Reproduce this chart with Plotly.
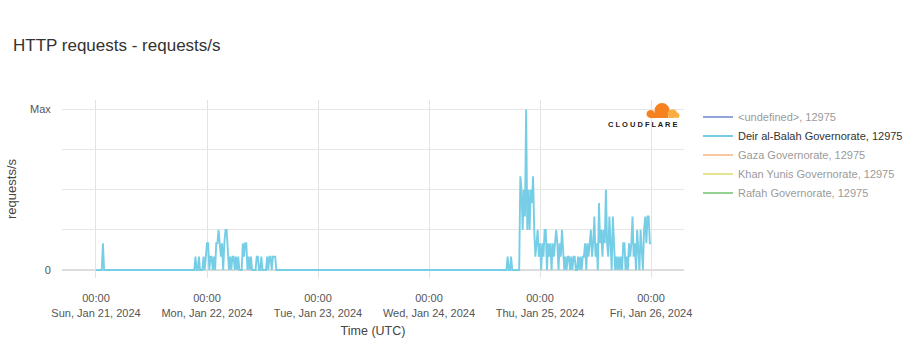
import pandas as pd
import plotly.graph_objects as go

# ---------------- data ----------------
title_text = "HTTP requests - requests/s"
series_names = [
    "&lt;undefined&gt;, 12975",
    "Deir al-Balah Governorate, 12975",
    "Gaza Governorate, 12975",
    "Khan Yunis Governorate, 12975",
    "Rafah Governorate, 12975",
]
series_colors = ["#1a48b8", "#76cee6", "#f38a3a", "#c8c81e", "#1fa21f"]
series_start = "2024-01-21 00:00"
series_step = "15min"

# Deir al-Balah Governorate, 12975 (scaled 0..12, 12 = Max), 15-minute samples
jan21 = [
    0, 0, 0, 0, 0, 0, 2, 0, 0, 0, 0, 0, 0, 0, 0, 0, 0, 0, 0, 0, 0, 0, 0, 0,
    0, 0, 0, 0, 0, 0, 0, 0, 0, 0, 0, 0, 0, 0, 0, 0, 0, 0, 0, 0, 0, 0, 0, 0,
    0, 0, 0, 0, 0, 0, 0, 0, 0, 0, 0, 0, 0, 0, 0, 0, 0, 0, 0, 0, 0, 0, 0, 0,
    0, 0, 0, 0, 0, 0, 0, 0, 0, 0, 0, 0, 0, 0, 1, 0, 0, 1, 0, 0, 0, 1, 0, 1,
]
jan22 = [
    2, 2, 0, 1, 1, 0, 1, 0, 2, 2, 3, 2, 1, 2, 0, 2, 3, 3, 1, 0, 1, 0, 1, 1,
    0, 1, 0, 1, 0, 0, 0, 2, 1, 2, 2, 0, 1, 0, 1, 0, 0, 0, 0, 1, 1, 0, 0, 1,
    0, 0, 0, 0, 1, 0, 1, 1, 0, 1, 1, 1, 0, 0, 0, 0, 0, 0, 0, 0, 0, 0, 0, 0,
    0, 0, 0, 0, 0, 0, 0, 0, 0, 0, 0, 0, 0, 0, 0, 0, 0, 0, 0, 0, 0, 0, 0, 0,
]
jan23 = [
    0, 0, 0, 0, 0, 0, 0, 0, 0, 0, 0, 0, 0, 0, 0, 0, 0, 0, 0, 0, 0, 0, 0, 0,
    0, 0, 0, 0, 0, 0, 0, 0, 0, 0, 0, 0, 0, 0, 0, 0, 0, 0, 0, 0, 0, 0, 0, 0,
    0, 0, 0, 0, 0, 0, 0, 0, 0, 0, 0, 0, 0, 0, 0, 0, 0, 0, 0, 0, 0, 0, 0, 0,
    0, 0, 0, 0, 0, 0, 0, 0, 0, 0, 0, 0, 0, 0, 0, 0, 0, 0, 0, 0, 0, 0, 0, 0,
]
jan24 = [
    0, 0, 0, 0, 0, 0, 0, 0, 0, 0, 0, 0, 0, 0, 0, 0, 0, 0, 0, 0, 0, 0, 0, 0,
    0, 0, 0, 0, 0, 0, 0, 0, 0, 0, 0, 0, 0, 0, 0, 0, 0, 0, 0, 0, 0, 0, 0, 0,
    0, 0, 0, 0, 0, 0, 0, 0, 0, 0, 0, 0, 0, 0, 0, 0, 0, 0, 0, 0, 1, 0, 0, 1,
    0, 0, 0, 0, 0, 0, 0, 7, 6, 3, 6, 4, 12, 3, 6, 3, 6, 5, 7, 3, 1, 2, 3, 1,
]
jan25 = [
    2, 0, 2, 1, 3, 3, 0, 2, 1, 2, 0, 2, 1, 2, 3, 2, 0, 2, 1, 3, 1, 0, 1, 0,
    1, 1, 0, 1, 0, 1, 1, 0, 0, 1, 0, 1, 0, 1, 1, 2, 0, 2, 1, 2, 3, 1, 2, 4,
    1, 2, 0, 5, 2, 3, 1, 3, 2, 6, 2, 1, 4, 2, 0, 4, 2, 0, 1, 0, 1, 0, 1, 0,
    2, 2, 0, 1, 0, 2, 1, 2, 4, 1, 2, 0, 3, 1, 0, 3, 1, 0, 3, 4, 2, 4, 4, 2,
]
jan26 = [2]

x_tick_dates = ["2024-01-21", "2024-01-22", "2024-01-23", "2024-01-24", "2024-01-25", "2024-01-26"]
x_tick_text = [
    "00:00<br>Sun, Jan 21, 2024",
    "00:00<br>Mon, Jan 22, 2024",
    "00:00<br>Tue, Jan 23, 2024",
    "00:00<br>Wed, Jan 24, 2024",
    "00:00<br>Thu, Jan 25, 2024",
    "00:00<br>Fri, Jan 26, 2024",
]
y_tick_vals = [0, 3, 6, 9, 12]
y_tick_text = ["0", "", "", "", "Max"]
x_title = "Time (UTC)"
y_title = "requests/s"
logo_text = "C L O U D F L A R E"

# ---------------- figure ----------------
deir_values = jan21 + jan22 + jan23 + jan24 + jan25 + jan26
deir_times = pd.date_range(series_start, periods=len(deir_values), freq=series_step)

FONT = "Liberation Sans, Arial, Helvetica, sans-serif"
W, H = 920, 360
ML, MR, MT, MB = 62, 236, 100, 82
PW, PH = W - ML - MR, H - MT - MB


def PX(x):
    return (x - ML) / PW


def PY(y):
    return (H - MB - y) / PH


fig = go.Figure()
for name, color in zip(series_names, series_colors):
    if name.startswith("Deir"):
        fig.add_trace(go.Scatter(
            x=deir_times, y=deir_values, mode="lines", name=name,
            line=dict(color=color, width=1.9), hoverinfo="skip",
        ))
    else:
        fig.add_trace(go.Scatter(
            x=[deir_times[0]], y=[None], mode="lines", name=name, visible="legendonly",
            line=dict(color=color, width=1.9),
        ))

shapes = []
# Cloudflare logo cloud (decorative)
dark = "#f6821f"
light = "#fbad41"
shapes.append(dict(type="circle", xref="paper", yref="paper", x0=PX(654.5), x1=PX(669.5),
                   y0=PY(118), y1=PY(103), fillcolor=dark, line=dict(width=0), layer="above"))
shapes.append(dict(type="circle", xref="paper", yref="paper", x0=PX(646.5), x1=PX(655),
                   y0=PY(118), y1=PY(110), fillcolor=dark, line=dict(width=0), layer="above"))
shapes.append(dict(type="rect", xref="paper", yref="paper", x0=PX(650), x1=PX(668),
                   y0=PY(118), y1=PY(113), fillcolor=dark, line=dict(width=0), layer="above"))
shapes.append(dict(type="circle", xref="paper", yref="paper", x0=PX(667.5), x1=PX(677.5),
                   y0=PY(118), y1=PY(109.5), fillcolor=light, line=dict(width=0), layer="above"))
shapes.append(dict(type="rect", xref="paper", yref="paper", x0=PX(668.5), x1=PX(674),
                   y0=PY(118), y1=PY(114), fillcolor=light, line=dict(width=0), layer="above"))
shapes.append(dict(type="circle", xref="paper", yref="paper", x0=PX(674.5), x1=PX(679.5),
                   y0=PY(118), y1=PY(113), fillcolor=light, line=dict(width=0), layer="above"))

fig.update_layout(
    width=W, height=H,
    margin=dict(l=ML, r=MR, t=MT, b=MB, pad=0),
    paper_bgcolor="white", plot_bgcolor="white",
    font=dict(family=FONT, size=11, color="#555"),
    title=dict(text=title_text, x=13 / W, xanchor="left", y=1 - 45 / H, yanchor="middle",
               font=dict(size=17, color="#333", family=FONT)),
    showlegend=True,
    legend=dict(x=PX(698), xanchor="left", y=PY(102.5), yanchor="top",
                font=dict(size=11, color="#333", family=FONT),
                bgcolor="rgba(0,0,0,0)", borderwidth=0, itemwidth=30,
                tracegroupgap=0),
    shapes=shapes,
    annotations=[dict(text="<b>" + logo_text + "</b>", x=PX(643), y=PY(124.5), xref="paper", yref="paper",
                      xanchor="center", yanchor="middle", showarrow=False,
                      font=dict(size=7.5, color="#1a1a1a", family=FONT))],
)

fig.update_xaxes(
    type="date",
    range=["2024-01-20 16:39", "2024-01-26 07:08"],
    tickmode="array", tickvals=x_tick_dates, ticktext=x_tick_text,
    showgrid=True, gridcolor="#e3e3e3", gridwidth=1,
    zeroline=False, showline=False,
    ticks="outside", ticklen=10, tickcolor="rgba(0,0,0,0)",
    tickfont=dict(size=11, color="#555", family=FONT),
    title=dict(text=x_title, font=dict(size=12.5, color="#444", family=FONT), standoff=8),
)
fig.update_yaxes(
    range=[-0.6, 12.71],
    tickmode="array", tickvals=y_tick_vals, ticktext=y_tick_text,
    showgrid=True, gridcolor="#e6e6e6", gridwidth=1,
    zeroline=True, zerolinecolor="#dcdcdc", zerolinewidth=1.6,
    showline=False,
    ticks="outside", ticklen=8, tickcolor="rgba(0,0,0,0)",
    tickfont=dict(size=11, color="#555", family=FONT),
    title=dict(text=y_title, font=dict(size=13, color="#444", family=FONT), standoff=10),
)

fig.write_html("out.html", config={"displayModeBar": False},
               post_script="document.body.style.margin='0';")
